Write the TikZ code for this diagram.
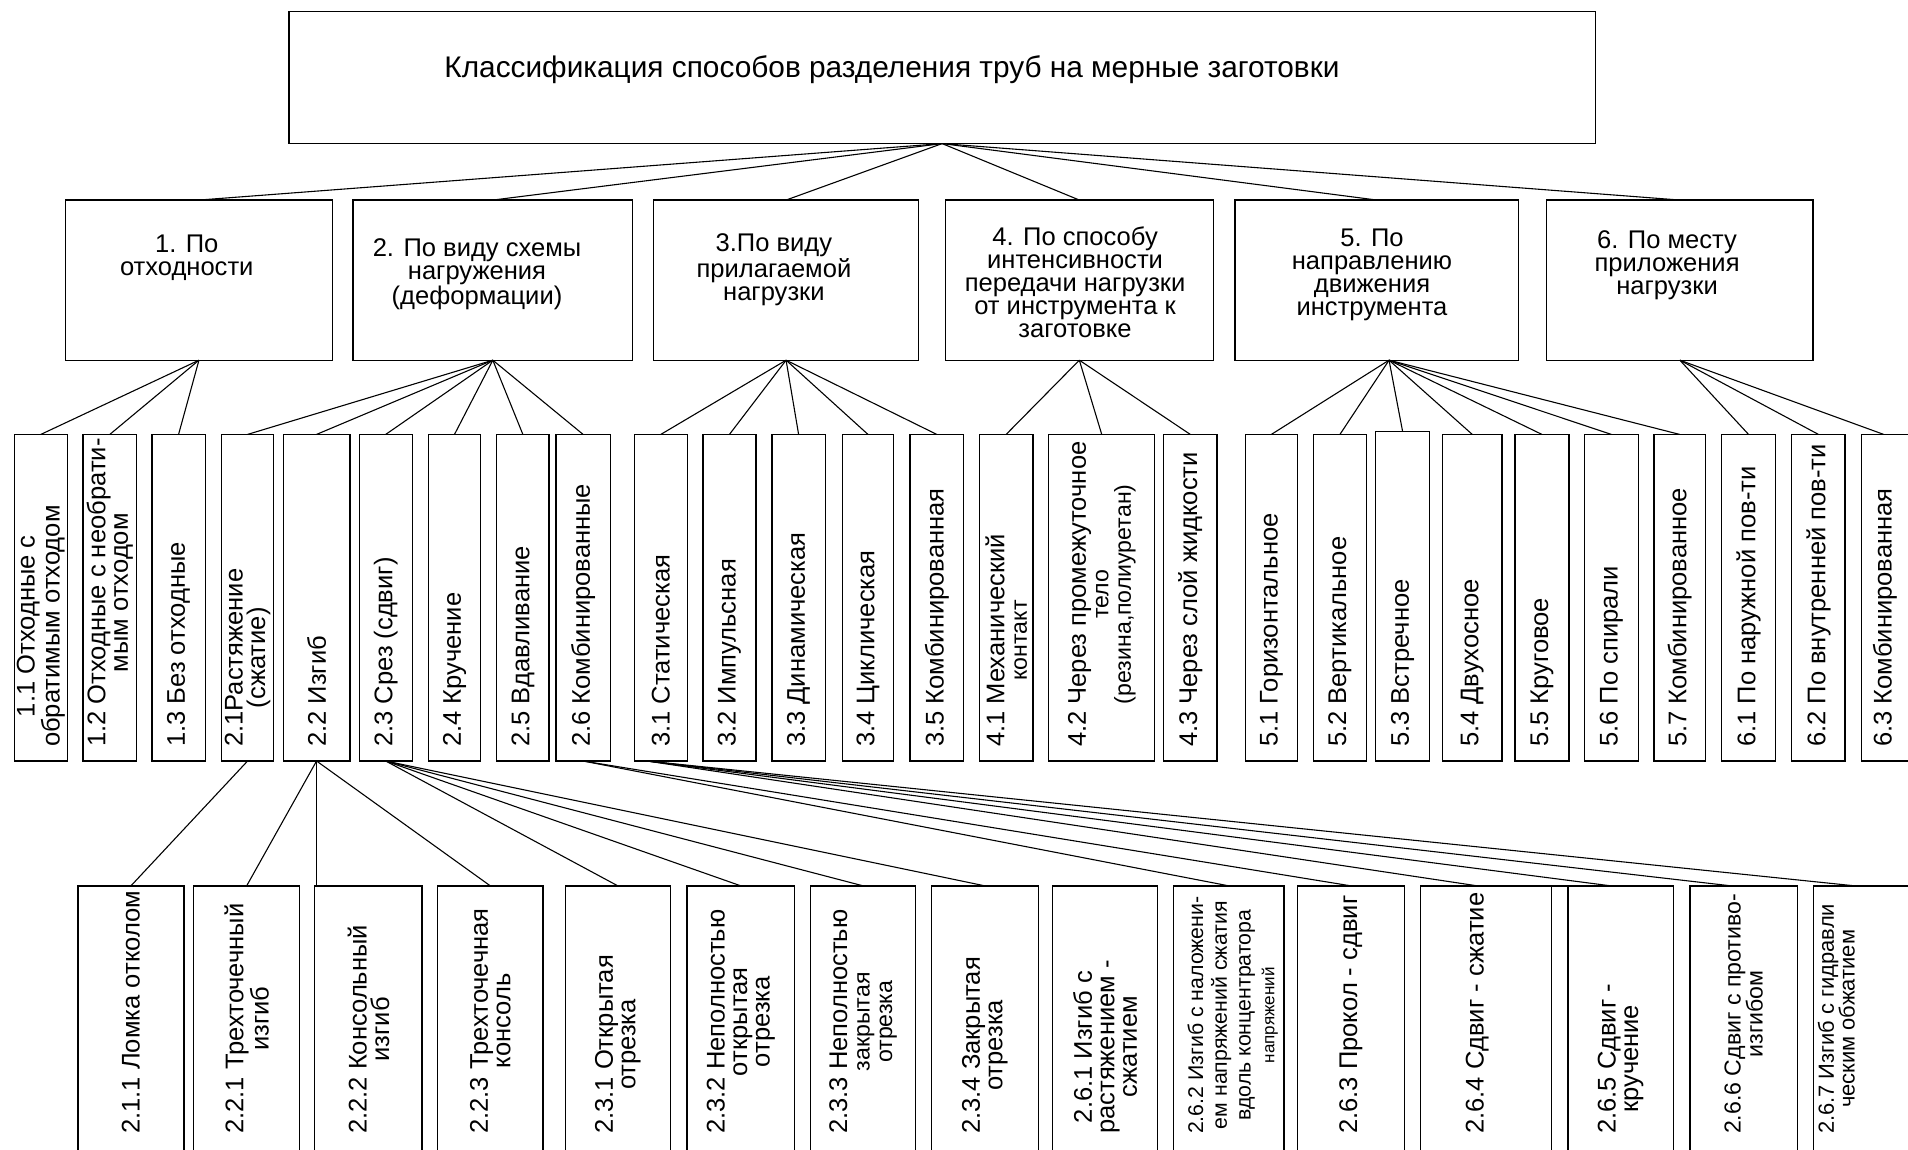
\documentclass[tikz,border=0pt]{standalone}
\usepackage{fontspec}
\setmainfont{Liberation Sans}
\usetikzlibrary{calc}
\tikzset{
  box/.style={draw, line width=1.1pt, inner sep=0pt, outer sep=0pt, anchor=north west},
  conn/.style={line width=0.9pt},
  hfont/.style={font=\fontsize{21}{19}\selectfont, align=center, inner sep=0pt, anchor=north},
  vt/.style={font=\fontsize{21}{18.5}\selectfont, align=center, inner sep=0pt, rotate=90, anchor=west},
}
\newcommand\bx[5]{\node[box, minimum width={(#4-#2)*1pt}, minimum height={(#5-#3)*1pt}] (#1) at (#2,#3) {};}
\newcommand\vb[4]{\bx{#1}{#2}{357}{#3}{625.4}\node[vt] (t#1) at ({(#2+#3)/2},614) {#4};}
\newcommand\wb[5]{\bx{#1}{#2}{728}{#3}{960}\node[vt] (t#1) at (#4,932) {#5};}
\begin{document}
\begin{tikzpicture}[x=1pt,y=-1pt]
\useasboundingbox (0,0) rectangle (1568,945);
\clip (0,0) rectangle (1568,945);
% root
\bx{root}{237.5}{9.6}{1311}{118}
\node[font=\fontsize{24.5}{28}\selectfont, inner sep=0pt, anchor=base] (title) at (733,64) {Классификация способов разделения труб на мерные заготовки};
% level 1
\bx{a1}{54}{164.4}{273}{296}
\bx{a2}{290}{164.4}{520}{296}
\bx{a3}{537}{164.4}{755}{296}
\bx{a4}{777}{164.4}{997}{296}
\bx{a5}{1015}{164.4}{1248}{296}
\bx{a6}{1271}{164.4}{1490}{296}
\node[hfont] (ta1) at (153.5,193) {1. По\\отходности};
\node[hfont] (ta2) at (392,196) {2. По виду схемы\\нагружения\\(деформации)};
\node[hfont] (ta3) at (636,192) {3.По виду\\прилагаемой\\нагрузки};
\node[hfont] (ta4) at (883.5,186) {4. По способу\\интенсивности\\передачи нагрузки\\от инструмента к\\заготовке};
\node[hfont] (ta5) at (1127.5,188) {5. По\\направлению\\движения\\инструмента};
\node[hfont] (ta6) at (1370,189) {6. По месту\\приложения\\нагрузки};
\foreach \a in {a1,a2,a3,a4,a5,a6} \draw[conn] (root.south) -- (\a.north);
% level 2
\vb{b11}{11.8}{55.3}{1.1 Отходные с\\обратимым отходом}
\vb{b12}{68.1}{112.4}{1.2 Отходные с необрати-\\мым отходом}
\vb{b13}{124.8}{168.7}{1.3 Без отходные}
\vb{b21}{182.1}{224.8}{2.1Растяжение\\(сжатие)}
\vb{b22}{232.8}{287.5}{2.2 Изгиб}
\vb{b23}{295.2}{338.8}{2.3 Срез (сдвиг)}
\vb{b24}{352.2}{394.8}{2.4 Кручение}
\vb{b25}{408.2}{451.2}{2.5 Вдавливание}
\vb{b26}{456.9}{501.5}{2.6 Комбинированные}
\vb{b31}{521.3}{564.8}{3.1 Статическая}
\vb{b32}{577.7}{621.2}{3.2 Импульсная}
\vb{b33}{634.3}{678.3}{3.3 Динамическая}
\vb{b34}{692.3}{734.3}{3.4 Циклическая}
\vb{b35}{747.7}{792}{3.5 Комбинированная}
\vb{b41}{804.7}{849}{4.1 Механический\\{\fontsize{19}{18}\selectfont контакт}}
\vb{b42}{861.8}{949}{4.2 Через промежуточное\\{\fontsize{19}{18}\selectfont тело}\\{\fontsize{19}{18}\selectfont (резина,полиуретан)}}
\vb{b43}{956.4}{1000}{4.3 Через слой жидкости}
\vb{b51}{1023.3}{1066.3}{5.1 Горизонтальное}
\vb{b52}{1079.3}{1123}{5.2 Вертикальное}
\bx{b53}{1130.4}{354.5}{1174.9}{625.4}\node[vt] (tb53) at (1152.6,614) {5.3 Встречное};
\vb{b54}{1185.4}{1234.4}{5.4 Двухосное}
\vb{b55}{1244.9}{1289.4}{5.5 Круговое}
\vb{b56}{1302}{1346.5}{5.6 По спирали}
\vb{b57}{1359.3}{1401.4}{5.7 Комбинированное}
\vb{b61}{1414.7}{1459.2}{6.1 По наружной пов-ти}
\vb{b62}{1472.5}{1516.3}{6.2 По внутренней пов-ти}
\bx{b63}{1530}{357}{1590}{625.4}\node[vt] (tb63) at (1549,614) {6.3 Комбинированная};
\coordinate (o5) at ($(a5.south)+(10,0)$);
\foreach \b in {b11,b12,b13} \draw[conn] (a1.south) -- (\b.north);
\foreach \b in {b21,b22,b23,b24,b25,b26} \draw[conn] (a2.south) -- (\b.north);
\foreach \b in {b31,b32,b33,b34,b35} \draw[conn] (a3.south) -- (\b.north);
\foreach \b in {b41,b42,b43} \draw[conn] (a4.south) -- (\b.north);
\foreach \b in {b51,b52,b53,b54,b55,b56,b57} \draw[conn] (o5) -- (\b.north);
\draw[conn] (a6.south) -- (b61.north);
\draw[conn] (a6.south) -- (b62.north);
\draw[conn] (a6.south) -- ($(b63.north west)+(18,0)$);
% level 3
\wb{c211}{64}{151.2}{107.6}{2.1.1 Ломка отколом}
\wb{c221}{159.1}{246.3}{202.7}{2.2.1 Трехточечный\\изгиб}
\wb{c222}{258.7}{346.9}{302.8}{2.2.2 Консольный\\изгиб}
\wb{c223}{359.7}{446.2}{403}{2.2.3 Трехточечная\\консоль}
\wb{c231}{464.6}{550.9}{507.7}{2.3.1 Открытая\\отрезка}
\wb{c232}{564.7}{653}{608.8}{2.3.2 Неполностью\\открытая\\отрезка}
\wb{c233}{666.1}{752.6}{709.3}{2.3.3 Неполностью\\{\fontsize{19}{18}\selectfont закрытая}\\{\fontsize{19}{18}\selectfont отрезка}}
\wb{c234}{765.3}{853.5}{809.4}{2.3.4 Закрытая\\отрезка}
\wb{c261}{865}{951.4}{908.2}{2.6.1 Изгиб с\\растяжением -\\сжатием}
\bx{c262}{964.6}{728}{1055.2}{960}
\node[vt, font=\fontsize{17.5}{19.5}\selectfont] (tc262) at (1013,932) {2.6.2 Изгиб с наложени-\\ем напряжений сжатия\\вдоль концентратора\\{\fontsize{14}{15}\selectfont напряжений}};
\wb{c263}{1066.1}{1154.4}{1110.2}{2.6.3 Прокол - сдвиг}
\wb{c264}{1167.2}{1274.9}{1214}{2.6.4 Сдвиг - сжатие}
\wb{c265}{1274.9}{1375.1}{1331.8}{2.6.5 Сдвиг -\\кручение}
\draw[line width=1.1pt] ($(c265.north west)+(13.6,0)$) -- ($(c265.south west)+(13.6,0)$);
\bx{c266}{1388.7}{728}{1477}{960}
\node[vt, font=\fontsize{19}{18}\selectfont] (tc266) at (1432.9,932) {2.6.6 Сдвиг с противо-\\изгибом};
\bx{c267}{1490.5}{728}{1600}{960}
\node[vt, font=\fontsize{18}{17}\selectfont] (tc267) at (1509,932) {2.6.7 Изгиб с гидравли\\ческим обжатием};
\coordinate (o31) at ($(b31.south west)+(10.5,0)$);
\draw[conn] (b21.south) -- (c211.north);
\draw[conn] (b22.south) -- (c221.north);
\draw[conn] (b22.south) -- (b22.south |- c222.north);
\draw[conn] (b22.south) -- (c223.north);
\foreach \c in {c231,c232,c233,c234} \draw[conn] (b23.south) -- (\c.north);
\draw[conn] (b26.south) -- (c262.north);
\draw[conn] (b26.south) -- (c263.north);
\draw[conn] (o31) -- ($(c264.north west)+(47,0)$);
\draw[conn] (o31) -- ($(c265.north west)+(49,0)$);
\draw[conn] (o31) -- ($(c266.north west)+(34,0)$);
\draw[conn] (o31) -- ($(c267.north west)+(34,0)$);
\end{tikzpicture}
\end{document}
